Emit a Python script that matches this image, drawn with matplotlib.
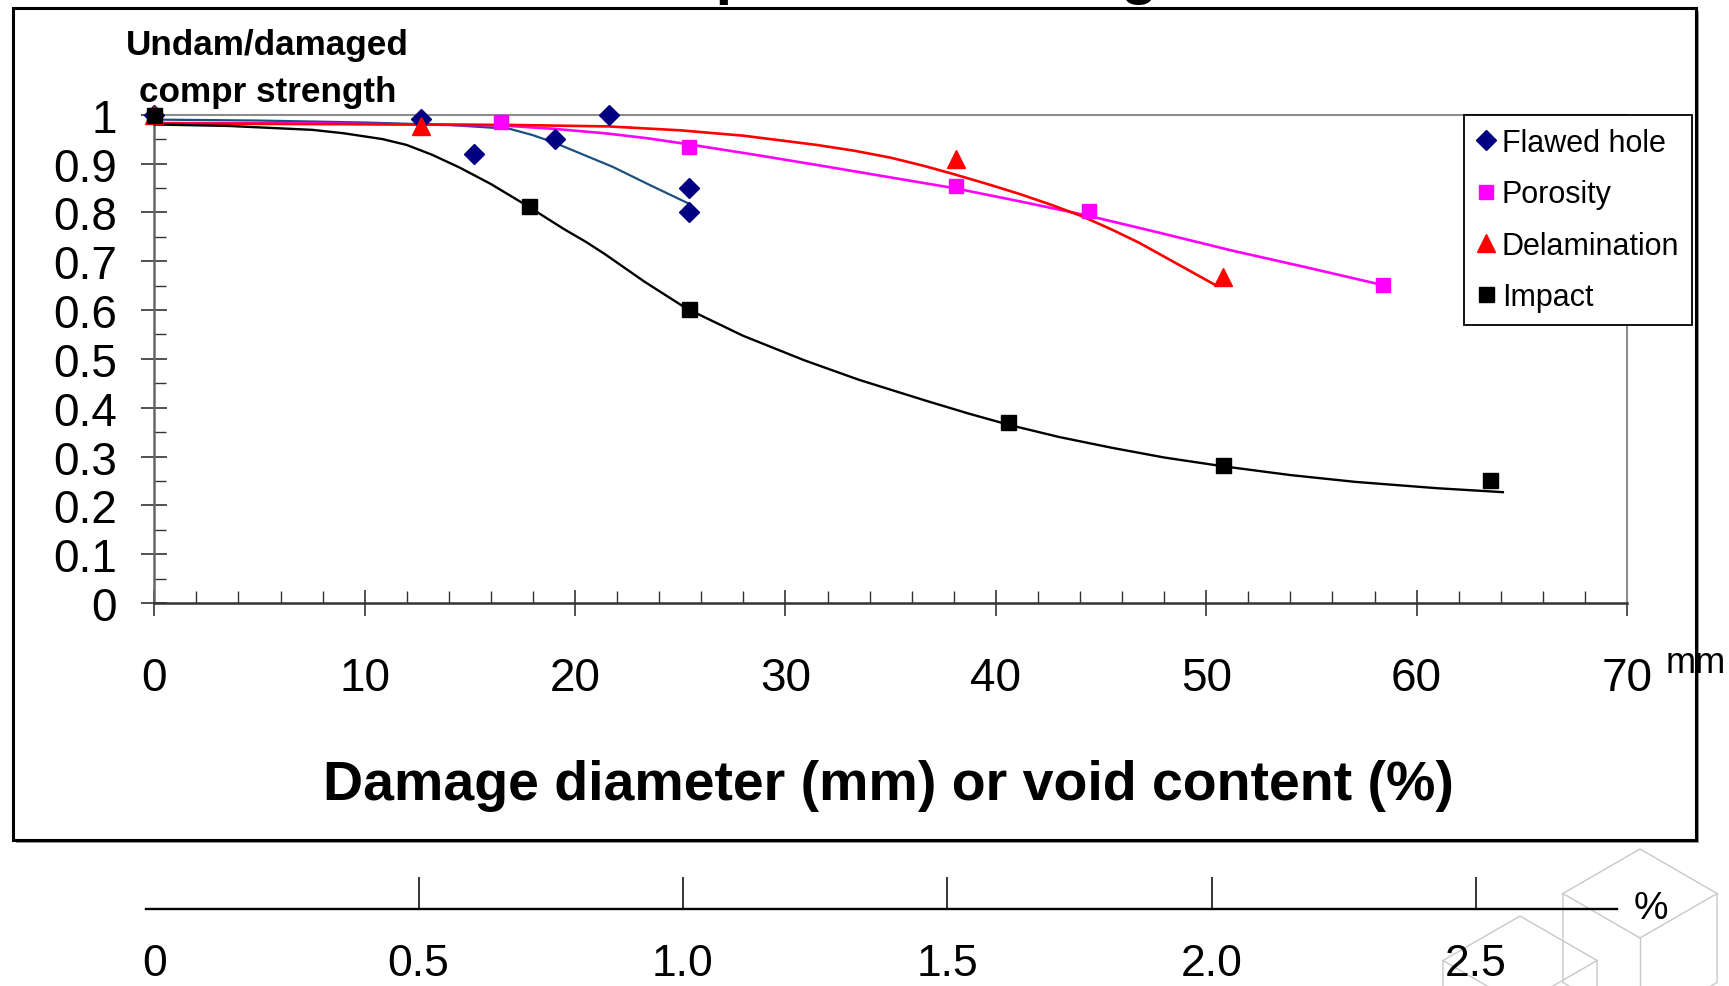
import numpy as np
import matplotlib
matplotlib.use('Agg')
import matplotlib.pyplot as plt
from matplotlib.patches import Rectangle, Polygon
from matplotlib.lines import Line2D
from matplotlib.ticker import MultipleLocator

plt.rcParams['font.family'] = ['Liberation Sans', 'DejaVu Sans']

W, H = 1729, 987

# measured points: damage diameter (mm) vs undamaged/damaged compression strength
flawed_x = [0, 12.7, 15.2, 19.05, 21.6, 25.4, 25.4]
flawed_y = [1.0, 0.991, 0.920, 0.950, 1.0, 0.850, 0.800]
porosity_x = [16.5, 25.4, 38.1, 44.45, 58.4]
porosity_y = [0.986, 0.933, 0.853, 0.802, 0.652]
delam_x = [0, 12.7, 38.1, 50.8]
delam_y = [1.0, 0.976, 0.909, 0.668]
impact_x = [0, 17.8, 25.4, 40.6, 50.8, 63.5]
impact_y = [1.0, 0.814, 0.603, 0.371, 0.283, 0.2525]

# trend lines
flawed_fit_x = [0, 5, 10, 14, 16.9, 18, 19, 20.4, 21.8, 23.6, 25.4]
flawed_fit_y = [0.990, 0.988, 0.984, 0.979, 0.971, 0.958, 0.943, 0.918, 0.893, 0.855, 0.818]
porosity_fit_x = [0, 8, 16.5, 19, 21.4, 23.4, 25.3, 28.4, 31.5, 34.8, 38.1, 41.2, 44.4,
                  47.8, 51.2, 54.8, 58.3]
porosity_fit_y = [0.983, 0.982, 0.978, 0.971, 0.962, 0.952, 0.940, 0.919, 0.897, 0.873,
                  0.849, 0.822, 0.793, 0.758, 0.722, 0.687, 0.652]
delam_fit_x = [0, 12.7, 17, 21.6, 25, 28, 31.5, 33.3, 35, 36.6, 38.1, 39.6, 41.1, 42.6,
               44.1, 45.5, 46.8, 48.6, 50.4]
delam_fit_y = [0.982, 0.980, 0.979, 0.976, 0.968, 0.957, 0.938, 0.926, 0.912, 0.895, 0.877,
               0.858, 0.838, 0.816, 0.792, 0.765, 0.738, 0.695, 0.652]
impact_fit_x = [0, 3.5, 7.5, 9, 10.85, 12, 13.2, 14.5, 16, 17.7, 19.5, 20.5, 21.4, 23.3,
                25.3, 28, 30.9, 33.5, 36.7, 38.7, 40.7, 43, 45.5, 48, 50.8, 54, 57.1, 61, 64.1]
impact_fit_y = [0.980, 0.977, 0.969, 0.962, 0.950, 0.938, 0.918, 0.892, 0.858, 0.814, 0.765,
                0.740, 0.715, 0.658, 0.603, 0.547, 0.497, 0.457, 0.414, 0.388, 0.364, 0.340,
                0.318, 0.298, 0.280, 0.262, 0.248, 0.235, 0.227]

x_ticks = [0, 10, 20, 30, 40, 50, 60, 70]
y_ticks = [0, 0.1, 0.2, 0.3, 0.4, 0.5, 0.6, 0.7, 0.8, 0.9, 1.0]
y_labels = ['0', '0.1', '0.2', '0.3', '0.4', '0.5', '0.6', '0.7', '0.8', '0.9', '1']
pct_ticks = [0, 0.5, 1.0, 1.5, 2.0, 2.5]
pct_labels = ['0', '0.5', '1.0', '1.5', '2.0', '2.5']


def fx(px):
    return px / W


def fy(py):
    return 1 - py / H


fig = plt.figure(figsize=(W / 100, H / 100), dpi=100)

# faint hexagon pattern in the bottom right corner (behind the frame)
def hex_pts(cx, cy, r):
    pts = []
    for k in range(6):
        a = np.deg2rad(90 + 60 * k)
        pts.append((cx + r * np.cos(a), cy - r * np.sin(a)))
    return pts


for cx, cy in [(1520, 1006), (1640, 939)]:
    pts = hex_pts(cx, cy, 89)
    fig.add_artist(Polygon([(fx(a), fy(b)) for a, b in pts], closed=True, fill=False,
                           ec='#c8c8cc', lw=1.0, transform=fig.transFigure, zorder=-3))
    for k in (1, 3, 5):
        fig.add_artist(Line2D([fx(cx), fx(pts[k][0])], [fy(cy), fy(pts[k][1])],
                              color='#c8c8cc', lw=1.0, transform=fig.transFigure, zorder=-3))

# outer frame with a little shadow
fig.add_artist(Rectangle((fx(15.5), fy(843.5)), (1696 - 12.8) / W, (840.5 - 8.5) / H,
                         transform=fig.transFigure, fc='#9a9a9a', ec='none', zorder=-2))
fig.add_artist(Rectangle((fx(12.8), fy(840.5)), (1696 - 12.8) / W, (840.5 - 8.5) / H,
                         transform=fig.transFigure, fc='white', ec='black', lw=2.2, zorder=-1))

# title, cut off by the top of the picture
fig.text(fx(327), fy(-7), 'Residual compressive strength', ha='left', va='baseline',
         fontsize=43, fontweight='bold')

ax = fig.add_axes([fx(154.3), fy(604), (1627 - 154.3) / W, (604 - 115.7) / H])
ax.set_facecolor('white')

ax.plot(flawed_fit_x, flawed_fit_y, color='#1b4f7d', lw=1.6, zorder=2)
ax.plot(porosity_fit_x, porosity_fit_y, color='#ff00ff', lw=1.9, zorder=2)
ax.plot(delam_fit_x, delam_fit_y, color='#ff0000', lw=1.9, zorder=2)
ax.plot(impact_fit_x, impact_fit_y, color='black', lw=1.7, zorder=2)

ax.plot(flawed_x, flawed_y, ls='none', marker='D', ms=10, color='#000080',
        label='Flawed hole', clip_on=False, zorder=3)
ax.plot(porosity_x, porosity_y, ls='none', marker='s', ms=10.2, color='#ff00ff',
        label='Porosity', clip_on=False, zorder=3)
ax.plot(delam_x, delam_y, ls='none', marker='^', ms=13, color='#ff0000',
        label='Delamination', clip_on=False, zorder=3)
ax.plot(impact_x, impact_y, ls='none', marker='s', ms=10.8, color='black',
        label='Impact', clip_on=False, zorder=3)

ax.set_xlim(0, 70)
ax.set_ylim(0, 1)
ax.set_xticks(x_ticks)
ax.set_yticks(y_ticks, labels=y_labels)
ax.xaxis.set_minor_locator(MultipleLocator(2))
ax.yaxis.set_minor_locator(MultipleLocator(0.05))
ax.tick_params(which='major', direction='inout', length=19.4, width=1.1, color='#222222',
               labelsize=33)
ax.tick_params(axis='x', which='major', pad=28.3)
ax.tick_params(axis='y', which='major', pad=17)
ax.tick_params(which='minor', direction='in', length=8.6, width=1.0, color='#333333')

ax.spines['left'].set_color('#666666')
ax.spines['left'].set_linewidth(1.8)
ax.spines['bottom'].set_color('#333333')
ax.spines['bottom'].set_linewidth(1.8)
for s in ('top', 'right'):
    ax.spines[s].set_color('#8c8c8c')
    ax.spines[s].set_linewidth(1.5)

leg = ax.legend(loc='upper left', bbox_to_anchor=(fx(1463.6), fy(116)),
                bbox_transform=fig.transFigure, frameon=True, fancybox=False,
                edgecolor='black', framealpha=1, fontsize=22, borderpad=0.42,
                labelspacing=0.70, handlelength=0.6, handletextpad=0.23,
                borderaxespad=0)
leg.get_frame().set_linewidth(1.3)

# axis titles
fig.text(fx(267), fy(55), 'Undam/damaged', ha='center', va='baseline',
         fontsize=25.3, fontweight='bold')
fig.text(fx(268), fy(101.7), 'compr strength', ha='center', va='baseline',
         fontsize=25.3, fontweight='bold')
fig.text(fx(888), fy(800), 'Damage diameter (mm) or void content (%)', ha='center',
         va='baseline', fontsize=40, fontweight='bold')
fig.text(fx(1666), fy(673), 'mm', ha='left', va='baseline', fontsize=26)

# extra percentage scale under the frame
ax2 = fig.add_axes([fx(146), fy(910), (1617 - 146) / W, 0.0001])
ax2.set_facecolor('none')
ax2.set_xlim(-0.0157, 2.7666)
ax2.set_ylim(0, 1)
ax2.yaxis.set_visible(False)
for s in ('top', 'left', 'right'):
    ax2.spines[s].set_visible(False)
ax2.spines['bottom'].set_linewidth(1.7)
ax2.spines['bottom'].set_color('black')
ax2.set_xticks(pct_ticks, labels=pct_labels)
ax2.tick_params(axis='x', direction='in', length=23, width=1.1, labelsize=32, pad=24.5)
ax2.xaxis.get_major_ticks()[0].tick1line.set_visible(False)
fig.text(fx(1651), fy(909), '%', ha='center', va='center', fontsize=28)

fig.savefig('out.png', dpi=100)
